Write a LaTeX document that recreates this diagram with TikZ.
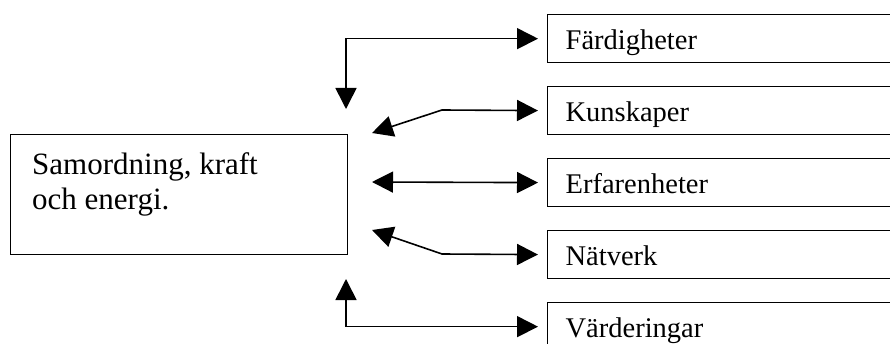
\documentclass[tikz,border=0pt]{standalone}
\usepackage{fontspec}
\setmainfont{Liberation Serif}
\usetikzlibrary{arrows.meta}
\begin{document}
\begin{tikzpicture}[x=1pt,y=-1pt,
  rbox/.style={draw, line width=1.3pt, rectangle, anchor=north west,
    minimum width=360pt, minimum height=48pt, inner xsep=18pt, inner ysep=0pt,
    text width=324pt, text height=27pt, text depth=6pt,
    align=left, font=\fontsize{28.5}{32}\selectfont},
  mbox/.style={draw, line width=1.3pt, rectangle, anchor=north west,
    minimum width=337pt, minimum height=120pt, inner sep=0pt},
  conn/.style={line width=1.6pt, {Triangle[length=21pt,width=21pt]}-{Triangle[length=21pt,width=21pt]},
    shorten >=9pt}
]
\useasboundingbox (0,0) rectangle (890,344);
\clip (0,0) rectangle (890,344);
\node[mbox] (main) at (10,134) {};
\node[anchor=north west, align=left, inner sep=0pt,
  font=\fontsize{31}{35}\selectfont] (maintext) at (32,152) {Samordning, kraft\\och energi.};
\node[rbox] (f) at (547,14) {Färdigheter};
\node[rbox] (k) at (547,86) {Kunskaper};
\node[rbox] (e) at (547,158) {Erfarenheter};
\node[rbox] (n) at (547,230) {Nätverk};
\node[rbox] (v) at (547,302) {Värderingar};
\coordinate (a1) at (346,109);
\coordinate (a2) at (372,133);
\coordinate (b2) at (442,110);
\coordinate (a3) at (372,182);
\coordinate (a4) at (372,230);
\coordinate (b4) at (442,254);
\coordinate (a5) at (346,279);
\draw[conn] (a1) |- (f.west);
\draw[conn] (a2) -- (b2) -- (k.west);
\draw[conn] (a3) -- (e.west);
\draw[conn] (a4) -- (b4) -- (n.west);
\draw[conn] (a5) |- (v.west);
\end{tikzpicture}
\end{document}
